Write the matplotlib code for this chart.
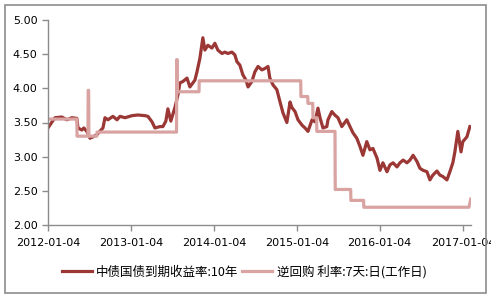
import numpy as np
import pandas as pd
import matplotlib
matplotlib.use('Agg')
import matplotlib.pyplot as plt
import matplotlib.dates as mdates
from matplotlib.patches import Rectangle

plt.rcParams['font.family'] = ['DejaVu Sans', 'Noto Sans CJK SC']

# 中债国债到期收益率:10年
bond_dates = [
    '2012-01-04', '2012-01-22', '2012-02-04', '2012-03-05', '2012-03-27', '2012-04-18',
    '2012-05-10', '2012-05-15', '2012-06-01', '2012-06-10', '2012-06-23', '2012-07-07',
    '2012-07-20', '2012-08-06', '2012-08-19', '2012-09-02', '2012-09-11', '2012-09-24',
    '2012-10-16', '2012-11-03', '2012-11-16', '2012-12-08', '2013-01-08', '2013-02-03',
    '2013-03-06', '2013-03-19', '2013-04-06', '2013-04-19', '2013-05-11', '2013-05-24',
    '2013-06-06', '2013-06-15', '2013-06-28', '2013-07-16', '2013-07-29', '2013-08-07',
    '2013-08-20', '2013-09-07', '2013-09-20', '2013-10-12', '2013-10-21', '2013-11-03',
    '2013-11-16', '2013-11-25', '2013-12-08', '2013-12-26', '2014-01-08', '2014-01-21',
    '2014-02-08', '2014-02-21', '2014-03-06', '2014-03-24', '2014-04-06', '2014-04-15',
    '2014-04-28', '2014-05-11', '2014-05-25', '2014-06-03', '2014-06-20', '2014-07-03',
    '2014-07-17', '2014-08-03', '2014-08-16', '2014-08-30', '2014-09-07', '2014-09-21',
    '2014-10-08', '2014-10-22', '2014-11-04', '2014-11-21', '2014-12-05', '2014-12-13',
    '2014-12-27', '2015-01-09', '2015-01-27', '2015-02-09', '2015-02-22', '2015-03-12',
    '2015-03-25', '2015-04-07', '2015-04-16', '2015-04-29', '2015-05-16', '2015-05-21',
    '2015-06-07', '2015-06-20', '2015-07-04', '2015-07-21', '2015-08-12', '2015-08-26',
    '2015-09-08', '2015-09-25', '2015-10-09', '2015-10-22', '2015-11-08', '2015-11-22',
    '2015-12-05', '2015-12-23', '2016-01-05', '2016-01-18', '2016-02-05', '2016-02-18',
    '2016-03-03', '2016-03-20', '2016-04-02', '2016-04-16', '2016-05-03', '2016-05-16',
    '2016-05-30', '2016-06-16', '2016-06-29', '2016-07-13', '2016-07-30', '2016-08-12',
    '2016-08-25', '2016-09-12', '2016-09-25', '2016-10-08', '2016-10-26', '2016-11-08',
    '2016-11-21', '2016-11-30', '2016-12-13', '2016-12-27', '2017-01-04', '2017-01-22',
    '2017-02-04',
]
bond_yield = [
    3.42, 3.51, 3.57, 3.58, 3.54, 3.57,
    3.56, 3.42, 3.39, 3.42, 3.37, 3.27,
    3.29, 3.32, 3.37, 3.42, 3.57, 3.54,
    3.59, 3.54, 3.59, 3.57, 3.60, 3.61,
    3.60, 3.59, 3.51, 3.42, 3.44, 3.44,
    3.52, 3.70, 3.52, 3.72, 3.90, 4.08,
    4.10, 4.15, 4.02, 4.12, 4.24, 4.44,
    4.74, 4.56, 4.63, 4.59, 4.66, 4.56,
    4.51, 4.53, 4.51, 4.53, 4.49, 4.39,
    4.34, 4.20, 4.12, 4.02, 4.10, 4.24,
    4.32, 4.27, 4.29, 4.32, 4.15, 4.05,
    3.98, 3.80, 3.64, 3.50, 3.80, 3.72,
    3.66, 3.54, 3.46, 3.42, 3.37, 3.54,
    3.51, 3.71, 3.57, 3.42, 3.44, 3.54,
    3.66, 3.61, 3.57, 3.44, 3.54, 3.44,
    3.35, 3.27, 3.15, 3.02, 3.22, 3.10,
    3.12, 2.98, 2.80, 2.91, 2.78, 2.88,
    2.91, 2.85, 2.91, 2.95, 2.91, 2.95,
    3.02, 2.93, 2.83, 2.80, 2.78, 2.66,
    2.73, 2.79, 2.73, 2.71, 2.66, 2.78,
    2.91, 3.07, 3.37, 3.07, 3.22, 3.29,
    3.44,
]

# 逆回购利率:7天 (daily, working days) -- step levels
repo_dates = [
    '2012-01-04', '2012-05-10', '2012-05-11', '2012-06-28', '2012-06-29', '2012-07-01',
    '2012-07-02', '2012-08-06', '2012-08-07', '2013-07-23', '2013-07-24', '2013-07-26',
    '2013-07-27', '2013-10-30', '2013-10-31', '2015-01-21', '2015-01-22', '2015-02-21',
    '2015-02-22', '2015-03-15', '2015-03-16', '2015-04-01', '2015-04-02', '2015-06-21',
    '2015-06-22', '2015-08-29', '2015-08-30', '2015-10-25', '2015-10-26', '2017-01-31',
    '2017-02-08',
]
repo_rate = [
    3.55, 3.55, 3.30, 3.30, 3.97, 3.97,
    3.30, 3.30, 3.36, 3.36, 4.42, 4.42,
    3.95, 3.95, 4.11, 4.11, 3.88, 3.88,
    3.78, 3.78, 3.57, 3.57, 3.37, 3.37,
    2.52, 2.52, 2.36, 2.36, 2.26, 2.26,
    2.38,
]

tick_labels = ['2012-01-04', '2013-01-04', '2014-01-04', '2015-01-04', '2016-01-04', '2017-01-04']

fig = plt.figure(figsize=(4.91, 2.99), dpi=100)
ax = fig.add_axes([48 / 491, 1 - 225 / 299, 423 / 491, 205 / 299])

ax.plot(pd.to_datetime(bond_dates), bond_yield, color='#9B3735', lw=2.3,
        solid_joinstyle='round', label='中债国债到期收益率:10年')
ax.plot(pd.to_datetime(repo_dates), repo_rate, color='#D9A3A2', lw=2.3,
        label='逆回购 利率:7天:日(工作日)')

ax.set_ylim(2, 5)
ax.set_yticks(np.arange(2, 5.01, 0.5))
ax.yaxis.set_major_formatter(plt.FormatStrFormatter('%.2f'))
ax.set_xlim(pd.Timestamp('2012-01-04'), pd.Timestamp('2017-02-09'))
ax.set_xticks(pd.to_datetime(tick_labels))
ax.set_xticklabels(tick_labels)

for side in ['top', 'right']:
    ax.spines[side].set_visible(False)
for side in ['left', 'bottom']:
    ax.spines[side].set_color('#8C8C8C')
    ax.spines[side].set_linewidth(1.0)
ax.tick_params(axis='both', colors='#8C8C8C', labelcolor='black', labelsize=8,
               length=4, width=1.0, direction='out')
ax.tick_params(axis='x', pad=5)

leg = fig.legend(loc='center', bbox_to_anchor=(0.497, 0.09), ncol=2, frameon=False,
                 prop={'family': ['Noto Sans CJK SC', 'DejaVu Sans'], 'size': 9},
                 handlelength=2.4, handletextpad=0.35, columnspacing=0.3)

fig.patches.append(Rectangle((5 / 491, 6 / 299), 481 / 491, 288 / 299, transform=fig.transFigure,
                             fill=False, edgecolor='#8C8C8C', lw=1.2))

fig.savefig('out.png', dpi=100)
